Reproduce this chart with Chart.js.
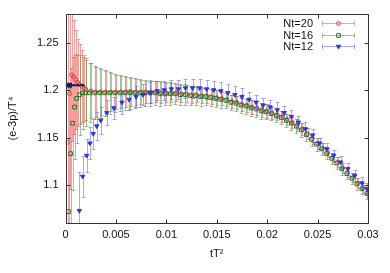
<!DOCTYPE html>
<html>
<head>
<meta charset="utf-8">
<script src="https://cdn.jsdelivr.net/npm/chart.js@4.4.1/dist/chart.umd.min.js"></script>
<style>
  html, body { margin: 0; padding: 0; background: #fff; }
  #wrap { width: 390px; height: 273px; }
</style>
</head>
<body>
<div id="wrap"><canvas id="chartFlow"></canvas></div>
<script>
// tick labels
const xTicks = [0, 0.005, 0.01, 0.015, 0.02, 0.025, 0.03];
const yTicks = [1.1, 1.15, 1.2, 1.25];

const names = ['Nt=20', 'Nt=16', 'Nt=12'];

// Nt=20
const nt20X = [0.0002, 0.0004, 0.0006, 0.0008, 0.001, 0.0012, 0.0014, 0.0016, 0.0018, 0.002,
  0.0025, 0.003, 0.0035, 0.004, 0.0045, 0.005, 0.0055, 0.006, 0.0065, 0.007,
  0.0075, 0.008, 0.0085, 0.009, 0.0095, 0.01, 0.0105, 0.011, 0.0115, 0.012,
  0.0125, 0.013, 0.0135, 0.014, 0.0145, 0.015, 0.0155, 0.016, 0.0165, 0.017,
  0.0175, 0.018, 0.0185, 0.019, 0.0195, 0.02, 0.0205, 0.021, 0.0215, 0.022,
  0.0225, 0.023, 0.0235, 0.024, 0.0245, 0.025, 0.0255, 0.026, 0.0265, 0.027,
  0.0275, 0.028, 0.0285, 0.029, 0.0295, 0.03];
const nt20Y = [1.145, 1.196, 1.216, 1.214, 1.211, 1.208, 1.206, 1.204, 1.202, 1.201,
  1.199, 1.198, 1.198, 1.198, 1.198, 1.198, 1.198, 1.198, 1.198, 1.198,
  1.198, 1.198, 1.198, 1.198, 1.197, 1.197, 1.197, 1.197, 1.196, 1.196,
  1.195, 1.195, 1.194, 1.194, 1.193, 1.192, 1.191, 1.190, 1.188, 1.187,
  1.185, 1.184, 1.182, 1.181, 1.179, 1.178, 1.176, 1.174, 1.172, 1.169,
  1.166, 1.163, 1.159, 1.154, 1.149, 1.144, 1.139, 1.134, 1.129, 1.124,
  1.118, 1.113, 1.108, 1.102, 1.097, 1.092];
const nt20Err = [0.2, 0.1, 0.07, 0.06, 0.052, 0.046, 0.042, 0.038, 0.035, 0.033,
  0.029, 0.026, 0.024, 0.022, 0.02, 0.018, 0.017, 0.016, 0.015, 0.014,
  0.013, 0.012, 0.012, 0.011, 0.011, 0.010, 0.010, 0.009, 0.009, 0.009,
  0.009, 0.008, 0.008, 0.008, 0.008, 0.008, 0.007, 0.007, 0.007, 0.007,
  0.007, 0.007, 0.007, 0.007, 0.007, 0.007, 0.006, 0.006, 0.006, 0.006,
  0.006, 0.006, 0.006, 0.006, 0.006, 0.006, 0.005, 0.005, 0.005, 0.005,
  0.005, 0.005, 0.005, 0.005, 0.005, 0.005];

// Nt=16
const nt16X = [0.0003, 0.0005, 0.0007, 0.0009, 0.0011, 0.0014, 0.0017, 0.002,
  0.0024, 0.0029, 0.0034, 0.0039, 0.0044, 0.0049, 0.0054, 0.0059, 0.0064, 0.0069,
  0.0074, 0.0079, 0.0084, 0.0089, 0.0094, 0.0099, 0.0104, 0.0109, 0.0114, 0.0119,
  0.0124, 0.0129, 0.0134, 0.0139, 0.0144, 0.0149, 0.0154, 0.0159, 0.0164, 0.0169,
  0.0174, 0.0179, 0.0184, 0.0189, 0.0194, 0.0199, 0.0204, 0.0209, 0.0214, 0.0219,
  0.0224, 0.0229, 0.0234, 0.0239, 0.0244, 0.0249, 0.0254, 0.0259, 0.0264, 0.0269,
  0.0274, 0.0279, 0.0284, 0.0289, 0.0294, 0.0299];
const nt16Y = [1.072, 1.133, 1.165, 1.182, 1.191, 1.195, 1.197, 1.197,
  1.197, 1.197, 1.197, 1.197, 1.197, 1.197, 1.197, 1.197, 1.197, 1.197,
  1.197, 1.197, 1.197, 1.197, 1.196, 1.196, 1.196, 1.196, 1.195, 1.195,
  1.194, 1.194, 1.193, 1.193, 1.192, 1.191, 1.190, 1.189, 1.187, 1.186,
  1.184, 1.183, 1.181, 1.180, 1.178, 1.177, 1.175, 1.173, 1.171, 1.168,
  1.165, 1.162, 1.158, 1.153, 1.148, 1.143, 1.138, 1.133, 1.128, 1.123,
  1.117, 1.112, 1.107, 1.101, 1.096, 1.091];
const nt16Err = [0.13, 0.09, 0.07, 0.055, 0.047, 0.042, 0.038, 0.035,
  0.031, 0.028, 0.026, 0.024, 0.022, 0.020, 0.019, 0.018, 0.017, 0.016,
  0.015, 0.014, 0.014, 0.013, 0.013, 0.012, 0.012, 0.011, 0.011, 0.011,
  0.010, 0.010, 0.010, 0.009, 0.009, 0.009, 0.009, 0.008, 0.008, 0.008,
  0.008, 0.008, 0.008, 0.008, 0.008, 0.008, 0.007, 0.007, 0.007, 0.007,
  0.007, 0.007, 0.007, 0.007, 0.007, 0.007, 0.006, 0.006, 0.006, 0.006,
  0.006, 0.006, 0.006, 0.006, 0.006, 0.006];

// Nt=12
const nt12X = [0.00137, 0.0017, 0.0021, 0.00243, 0.00275, 0.0031, 0.0035, 0.0041,
  0.0048, 0.0056, 0.0063, 0.007, 0.0077, 0.0084, 0.0091, 0.0098,
  0.0105, 0.0112, 0.0119, 0.0126, 0.0133, 0.014, 0.0147, 0.0154, 0.0161, 0.0168,
  0.0175, 0.0182, 0.0189, 0.0196, 0.0203, 0.021, 0.0217, 0.0224, 0.0231, 0.0238,
  0.0245, 0.0252, 0.0259, 0.0266, 0.0273, 0.028, 0.0287, 0.0294, 0.0299];
const nt12Y = [1.073, 1.109, 1.131, 1.144, 1.154, 1.162, 1.168, 1.176,
  1.181, 1.187, 1.190, 1.193, 1.195, 1.197, 1.199, 1.200,
  1.201, 1.201, 1.202, 1.202, 1.202, 1.201, 1.200, 1.199, 1.197, 1.195,
  1.193, 1.190, 1.187, 1.184, 1.182, 1.179, 1.176, 1.172, 1.166, 1.159,
  1.152, 1.144, 1.138, 1.131, 1.124, 1.117, 1.110, 1.102, 1.096];
const nt12Err = [0.041, 0.022, 0.017, 0.017, 0.016, 0.015, 0.014, 0.013,
  0.012, 0.012, 0.011, 0.011, 0.011, 0.011, 0.010, 0.010,
  0.010, 0.010, 0.010, 0.010, 0.010, 0.010, 0.009, 0.009, 0.009, 0.009,
  0.009, 0.008, 0.008, 0.008, 0.008, 0.008, 0.007, 0.007, 0.007, 0.007,
  0.007, 0.006, 0.006, 0.006, 0.006, 0.006, 0.006, 0.006, 0.006];

// continuum value at tT^2 -> 0
const limitX = [0, 0.0004, 0.0019];
const limitY = [1.205, 1.205, 1.205];

const colors = {
  red: 'rgb(235,55,55)', redBar: 'rgba(245,80,80,0.55)',
  green: 'rgb(30,120,30)', greenBar: 'rgba(50,150,50,0.5)',
  blue: 'rgb(50,50,230)', blueBar: 'rgba(80,80,255,0.5)',
  navy: 'rgb(25,20,110)'
};
const font = 'Liberation Sans, Arial, Helvetica, sans-serif';

function toPoints(xs, ys, errs) {
  return xs.map((x, i) => ({ x: x, y: ys[i], err: errs ? errs[i] : 0 }));
}

// vertical error bars, drawn just under each dataset's markers
const errorBars = {
  id: 'errorBars',
  beforeDatasetDraw(chart, args) {
    const ds = chart.data.datasets[args.index];
    if (!ds.barColor) return;
    const ctx = chart.ctx, a = chart.chartArea;
    const sx = chart.scales.x, sy = chart.scales.y;
    ctx.save();
    ctx.beginPath();
    ctx.rect(a.left, a.top, a.right - a.left, a.bottom - a.top);
    ctx.clip();
    ctx.strokeStyle = ds.barColor;
    ctx.lineWidth = 1;
    ds.data.forEach(p => {
      const px = Math.round(sx.getPixelForValue(p.x)) + 0.5;
      const t = Math.round(sy.getPixelForValue(p.y + p.err)) + 0.5;
      const b = Math.round(sy.getPixelForValue(p.y - p.err)) + 0.5;
      ctx.beginPath();
      ctx.moveTo(px, t); ctx.lineTo(px, b);
      ctx.moveTo(px - 2, t); ctx.lineTo(px + 2, t);
      ctx.moveTo(px - 2, b); ctx.lineTo(px + 2, b);
      ctx.stroke();
    });
    ctx.restore();
  }
};

// gnuplot style box, inward ticks, legend
const frame = {
  id: 'frame',
  afterDraw(chart) {
    const ctx = chart.ctx, a = chart.chartArea;
    const sx = chart.scales.x, sy = chart.scales.y;
    ctx.save();
    ctx.strokeStyle = '#333';
    ctx.lineWidth = 1;
    const L = Math.round(a.left) + 0.5, R = Math.round(a.right) + 0.5;
    const T = Math.round(a.top) + 0.5, B = Math.round(a.bottom) + 0.5;
    ctx.beginPath();
    ctx.rect(L, T, R - L, B - T);
    xTicks.forEach(v => {
      const px = Math.round(sx.getPixelForValue(v)) + 0.5;
      ctx.moveTo(px, B); ctx.lineTo(px, B - 4);
      ctx.moveTo(px, T); ctx.lineTo(px, T + 4);
    });
    yTicks.forEach(v => {
      const py = Math.round(sy.getPixelForValue(v)) + 0.5;
      ctx.moveTo(L, py); ctx.lineTo(L + 4, py);
      ctx.moveTo(R, py); ctx.lineTo(R - 4, py);
    });
    ctx.stroke();

    // legend
    const sets = chart.data.datasets.slice(0, 3);
    ctx.font = '11px ' + font;
    ctx.textAlign = 'right';
    ctx.textBaseline = 'middle';
    sets.forEach((ds, i) => {
      const y = Math.round(a.top + 9 + i * 11.7) + 0.5;
      ctx.fillStyle = '#111';
      ctx.fillText(names[i], 313, y);
      ctx.strokeStyle = ds.barColor;
      ctx.beginPath();
      ctx.moveTo(322, y); ctx.lineTo(355, y);
      ctx.moveTo(322.5, y - 2.5); ctx.lineTo(322.5, y + 2.5);
      ctx.moveTo(354.5, y - 2.5); ctx.lineTo(354.5, y + 2.5);
      ctx.stroke();
      ctx.strokeStyle = ds.borderColor;
      ctx.fillStyle = ds.backgroundColor;
      Chart.helpers.drawPoint(ctx, {
        pointStyle: ds.pointStyle, radius: ds.pointRadius,
        rotation: ds.rotation || 0, borderWidth: 1
      }, 338.5, y);
    });
    ctx.restore();
  }
};

const chart1 = document.getElementById('chartFlow').getContext('2d');
const chartFlow = new Chart(chart1, {
  type: 'scatter',
  data: {
    datasets: [
      {
        label: names[0],
        data: toPoints(nt20X, nt20Y, nt20Err),
        pointStyle: 'circle', pointRadius: 1.9, borderWidth: 1,
        borderColor: colors.red, backgroundColor: 'rgba(0,0,0,0)',
        barColor: colors.redBar, order: 3
      },
      {
        label: names[1],
        data: toPoints(nt16X, nt16Y, nt16Err),
        pointStyle: 'rect', pointRadius: 2.6, borderWidth: 1,
        borderColor: colors.green, backgroundColor: 'rgba(0,0,0,0)',
        barColor: colors.greenBar, order: 2
      },
      {
        label: names[2],
        data: toPoints(nt12X, nt12Y, nt12Err),
        pointStyle: 'triangle', rotation: 180, pointRadius: 2.5, borderWidth: 1,
        borderColor: colors.blue, backgroundColor: colors.blue,
        barColor: colors.blueBar, order: 1
      },
      {
        label: 'limit',
        data: toPoints(limitX, limitY),
        showLine: true, borderWidth: 2,
        borderColor: colors.navy, backgroundColor: colors.navy,
        pointRadius: [0, 2, 0], pointStyle: 'rect', order: 0
      }
    ]
  },
  options: {
    responsive: true,
    maintainAspectRatio: false,
    animation: false,
    layout: { padding: { top: 14, right: 22, left: 0, bottom: 0 } },
    plugins: { legend: { display: false }, tooltip: { enabled: false } },
    scales: {
      x: {
        type: 'linear', min: 0, max: 0.03,
        afterBuildTicks: s => { s.ticks = xTicks.map(v => ({ value: v })); },
        afterFit: s => { s.height = 50; },
        grid: { display: false, drawTicks: false },
        border: { display: false },
        ticks: {
          padding: 5, color: '#111', font: { family: font, size: 11 },
          callback: v => String(+Number(v).toFixed(4))
        },
        title: {
          display: true, text: 'tT²', color: '#111',
          font: { family: font, size: 11 }, padding: { top: 0, bottom: 12 }
        }
      },
      y: {
        type: 'linear', min: 1.06, max: 1.28,
        afterBuildTicks: s => { s.ticks = yTicks.map(v => ({ value: v })); },
        afterFit: s => { s.width = 65.5; },
        grid: { display: false, drawTicks: false },
        border: { display: false },
        ticks: {
          padding: 7, color: '#111', font: { family: font, size: 11 },
          callback: v => String(+Number(v).toFixed(3))
        },
        title: {
          display: true, text: '(e-3p)/T⁴', color: '#111',
          font: { family: font, size: 11 }, padding: { top: 6, bottom: 0 }
        }
      }
    }
  },
  plugins: [errorBars, frame]
});
</script>
</body>
</html>
